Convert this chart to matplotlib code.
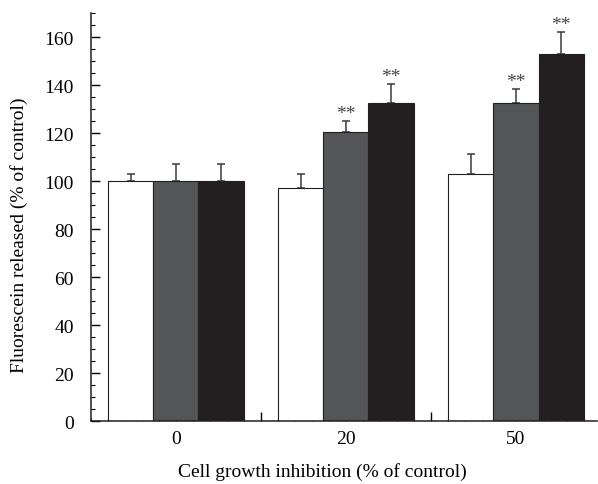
import numpy as np
import matplotlib
matplotlib.use('Agg')
import matplotlib.pyplot as plt
from matplotlib.ticker import MultipleLocator, FixedLocator, FuncFormatter

plt.rcParams['font.family'] = ['Liberation Serif', 'DejaVu Serif']
plt.rcParams['font.size'] = 14

# data
categories = ['0', '20', '50']
white_vals = [100, 97, 103]
white_err = [3, 6, 8.5]
grey_vals = [100, 120.5, 132.5]
grey_err = [7, 4.5, 6]
black_vals = [100, 132.5, 153]
black_err = [7, 8, 9]
grey_sig = ['', '**', '**']
black_sig = ['', '**', '**']

x = np.arange(len(categories))
width = 0.266

fig = plt.figure(figsize=(5.98, 4.85), dpi=100)
ax = fig.add_axes([0.1517, 0.1289, 0.8465, 0.8422])

series = [
    (white_vals, white_err, '#ffffff', -width, ['']*3),
    (grey_vals, grey_err, '#545557', 0, grey_sig),
    (black_vals, black_err, '#231f20', width, black_sig),
]
for vals, errs, color, off, sig in series:
    ax.bar(x + off, vals, width, color=color, edgecolor='#231f20', linewidth=0.8, zorder=2)
    ax.errorbar(x + off, vals, yerr=[np.zeros(len(errs)), errs], fmt='none',
                ecolor='#3a3a3a', elinewidth=1.1, capsize=2.6, capthick=1.1, zorder=1)
    for xi, v, e, s in zip(x + off, vals, errs, sig):
        if s:
            ax.text(xi, v + e + 3.2, s, ha='center', va='center', fontsize=14, color='#444444')

ax.set_xlim(-0.5, 2.476)
ax.set_ylim(0, 170)

for side in ['top', 'right']:
    ax.spines[side].set_visible(False)
for side in ['left', 'bottom']:
    ax.spines[side].set_linewidth(1.1)
    ax.spines[side].set_color('#231f20')

# y ticks
ax.yaxis.set_major_locator(MultipleLocator(20))
ax.yaxis.set_minor_locator(MultipleLocator(5))
ax.tick_params(axis='y', which='major', direction='in', length=6.5, width=1, pad=12, labelsize=14)
ax.tick_params(axis='y', which='minor', direction='in', length=3, width=0.8)

# x ticks: long separators between groups, short minor ticks with category labels
ax.xaxis.set_major_locator(FixedLocator([0.5, 1.5]))
ax.xaxis.set_major_formatter(FuncFormatter(lambda v, p: ''))
ax.xaxis.set_minor_locator(MultipleLocator(0.1))

def minor_label(v, p):
    i = int(round(v))
    if abs(v - i) < 1e-6 and 0 <= i < len(categories):
        return categories[i]
    return ''

ax.xaxis.set_minor_formatter(FuncFormatter(minor_label))
ax.tick_params(axis='x', which='major', direction='in', length=6.5, width=1)
ax.tick_params(axis='x', which='minor', direction='in', length=2.5, width=0.8, pad=6, labelsize=14)

ax.set_xlabel('Cell growth inhibition (% of control)', fontsize=14)
ax.set_ylabel('Fluorescein released (% of control)', fontsize=14)
ax.xaxis.set_label_coords(0.458, -0.1)
ax.yaxis.set_label_coords(-0.124, 0.459)

fig.savefig('out.png', dpi=100)
